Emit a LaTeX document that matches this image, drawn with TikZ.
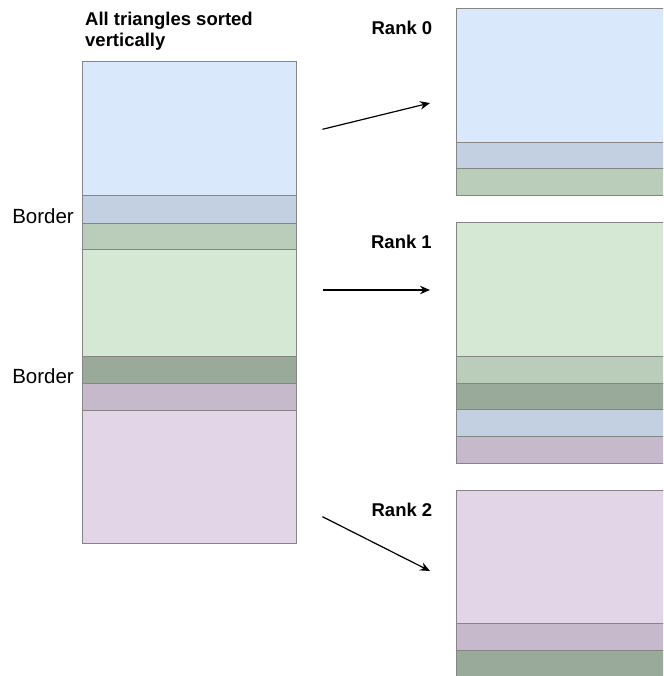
\documentclass[tikz,border=0pt]{standalone}
\usepackage{fontspec}
\setmainfont{Liberation Sans}
\usetikzlibrary{arrows.meta}

\definecolor{lblue}{HTML}{DAE8FC}
\definecolor{sblue}{HTML}{C3D0E1}
\definecolor{lgreen}{HTML}{D5E8D4}
\definecolor{mgreen}{HTML}{BACCBA}
\definecolor{dgreen}{HTML}{9AAA9A}
\definecolor{mauve}{HTML}{C7B9CC}
\definecolor{lpurple}{HTML}{E1D5E7}
\definecolor{edgegray}{HTML}{858585}

\tikzset{
  slab/.style={draw=edgegray, line width=1pt, rectangle, inner sep=0pt, outer sep=0pt,
               anchor=north west, minimum height=#1},
  leftslab/.style={slab=#1, minimum width=214pt},
  rightslab/.style={slab=#1, minimum width=230pt},
  ranklabel/.style={anchor=east, inner sep=0pt, font=\fontsize{18.5}{20.5}\selectfont\bfseries},
  borderlabel/.style={anchor=east, inner sep=0pt, font=\fontsize{20.5}{22}\selectfont},
  flow/.style={line width=1.2pt, -{Stealth[length=10pt, width=8.5pt]}}
}

\begin{document}
\begin{tikzpicture}[x=1pt, y=-1pt]
  \clip (0,0) rectangle (663,676);
  \fill[white] (0,0) rectangle (663,676);

  % full sorted list of triangles
  \node[leftslab=134pt,    fill=lblue]   (l1) at (82,62)    {};
  \node[leftslab=27pt,     fill=sblue]   (l2) at (82,196)   {};
  \node[leftslab=26.5pt,   fill=mgreen]  (l3) at (82,223)   {};
  \node[leftslab=106.5pt,  fill=lgreen]  (l4) at (82,249.5) {};
  \node[leftslab=27pt,     fill=dgreen]  (l5) at (82,356)   {};
  \node[leftslab=27pt,     fill=mauve]   (l6) at (82,383)   {};
  \node[leftslab=133pt,    fill=lpurple] (l7) at (82,410)   {};

  \node[anchor=north west, inner sep=0pt, align=left,
        font=\fontsize{18.5}{20.5}\selectfont\bfseries] (title) at (85,12)
        {All triangles sorted\\vertically};

  \node[borderlabel] (b1) at (74,216.5) {Border};
  \node[borderlabel] (b2) at (74,376.5) {Border};

  % rank 0
  \node[rightslab=133.7pt, fill=lblue]   (r0a) at (456.5,9)     {};
  \node[rightslab=26.3pt,  fill=sblue]   (r0b) at (456.5,142.7) {};
  \node[rightslab=27pt,    fill=mgreen]  (r0c) at (456.5,169)   {};
  \node[ranklabel] (rank0) at (432.5,28) {Rank 0};

  % rank 1
  \node[rightslab=134pt,   fill=lgreen]  (r1a) at (456.5,222)   {};
  \node[rightslab=27pt,    fill=mgreen]  (r1b) at (456.5,356)   {};
  \node[rightslab=26.7pt,  fill=dgreen]  (r1c) at (456.5,383)   {};
  \node[rightslab=27pt,    fill=sblue]   (r1d) at (456.5,409.7) {};
  \node[rightslab=26.6pt,  fill=mauve]   (r1e) at (456.5,436.7) {};
  \node[ranklabel] (rank1) at (432,242) {Rank 1};

  % rank 2
  \node[rightslab=133.4pt, fill=lpurple] (r2a) at (456.5,490.3) {};
  \node[rightslab=26.6pt,  fill=mauve]   (r2b) at (456.5,623.7) {};
  \node[rightslab=40pt,    fill=dgreen]  (r2c) at (456.5,650.3) {};
  \node[ranklabel] (rank2) at (432.5,510) {Rank 2};

  % distribution arrows
  \coordinate (s0) at (322.5,129.3);
  \coordinate (t0) at (430,103);
  \coordinate (s1) at (322.5,290);
  \coordinate (t1) at (430,290);
  \coordinate (s2) at (322.5,516.7);
  \coordinate (t2) at (430,571);
  \draw[flow] (s0) -- (t0);
  \draw[flow] (s1) -- (t1);
  \draw[flow] (s2) -- (t2);
\end{tikzpicture}
\end{document}
